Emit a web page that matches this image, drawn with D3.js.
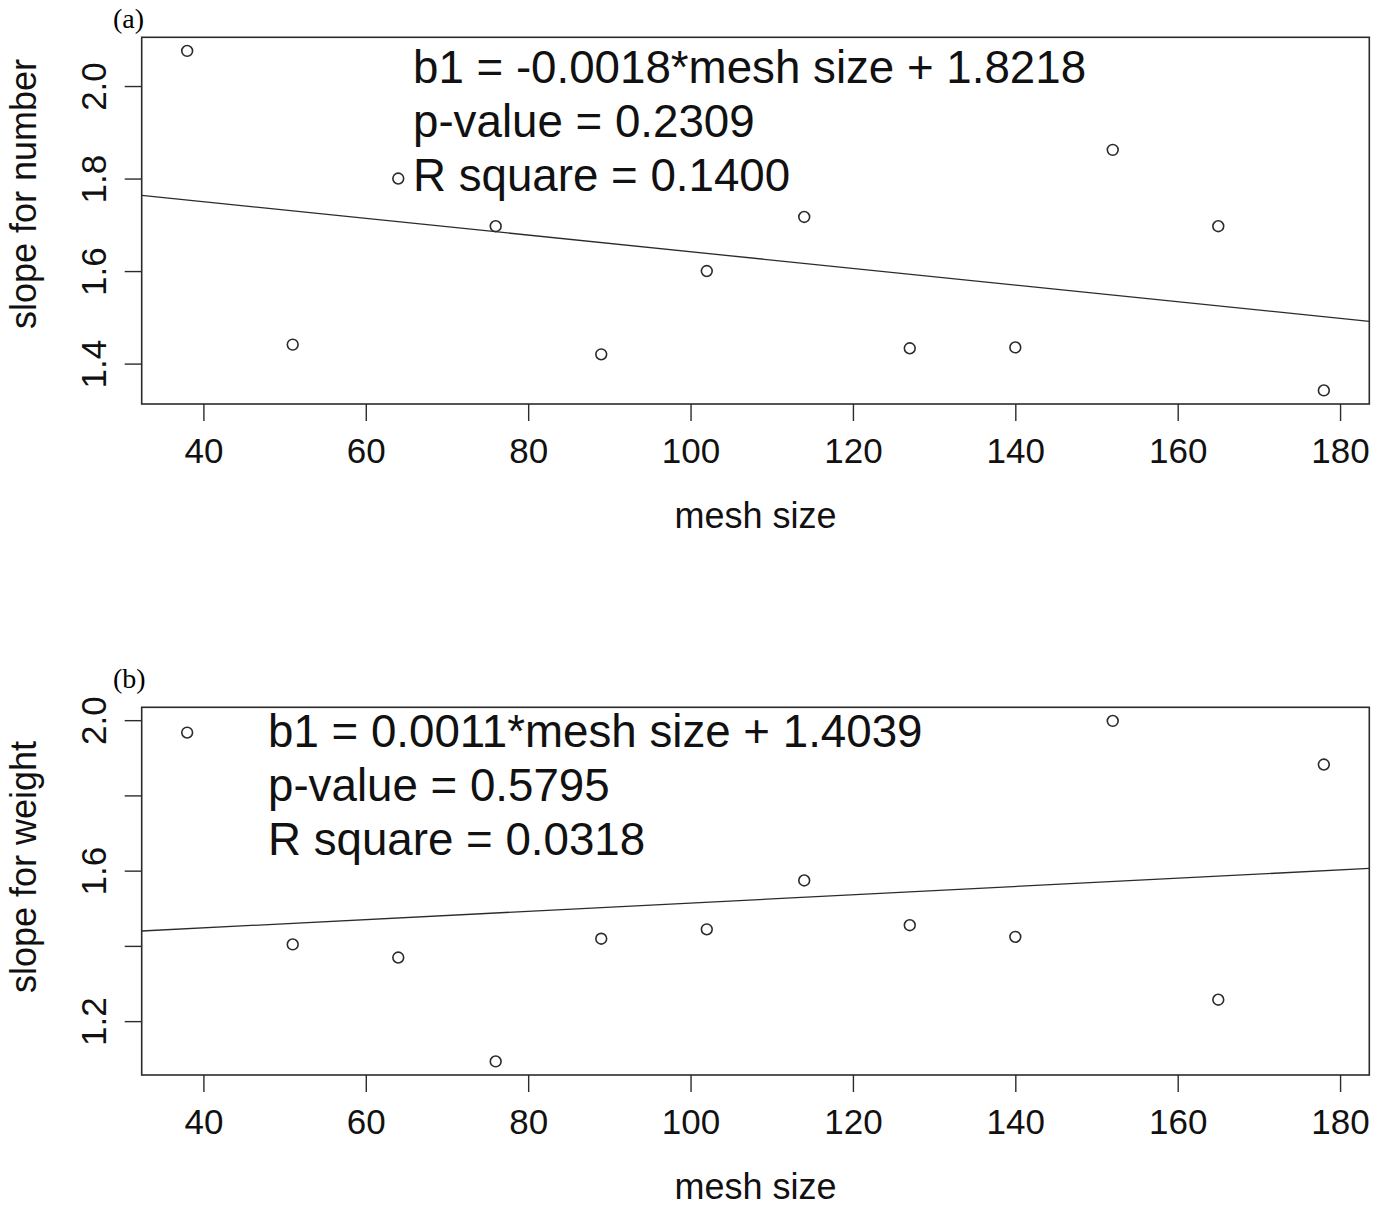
<!DOCTYPE html>
<html>
<head>
<meta charset="utf-8">
<script src="https://cdn.jsdelivr.net/npm/d3@7"></script>
<style>
  html, body { margin: 0; padding: 0; background: #fff; }
  svg { display: block; }
</style>
</head>
<body>
<svg id="chart" width="1386" height="1207"></svg>
<script>
// Mesh sizes shared by both panels
const meshSize = [38, 51, 64, 76, 89, 102, 114, 127, 140, 152, 165, 178];

// Panel (a): slope for number
const slopeNumber = [2.076, 1.441, 1.800, 1.697, 1.420, 1.600, 1.717, 1.433, 1.435, 1.862, 1.697, 1.342];
const fitNumber = [-0.0018, 1.8218]; // [slope, intercept]
const notesNumber = ["b1 = -0.0018*mesh size + 1.8218", "p-value = 0.2309", "R square = 0.1400"];
const yTicksNumber = [1.4, 1.6, 1.8, 2.0];
const yTickLabelsNumber = ["1.4", "1.6", "1.8", "2.0"];

// Panel (b): slope for weight
const slopeWeight = [1.967, 1.404, 1.369, 1.093, 1.419, 1.444, 1.574, 1.455, 1.424, 1.998, 1.257, 1.882];
const fitWeight = [0.0011, 1.4039];
const notesWeight = ["b1 = 0.0011*mesh size + 1.4039", "p-value = 0.5795", "R square = 0.0318"];
const yTicksWeight = [1.2, 1.4, 1.6, 1.8, 2.0];
const yTickLabelsWeight = ["1.2", "", "1.6", "", "2.0"];

const xTicks = [40, 60, 80, 100, 120, 140, 160, 180];

const svg = d3.select("#chart");
const ink = "#2b2b2b";
const sans = "'Liberation Sans', Arial, sans-serif";
const serif = "'Liberation Serif', 'Times New Roman', serif";

// R-style axis range: data extent widened by 4% on each side
function padded(values) {
  const [lo, hi] = d3.extent(values);
  const d = (hi - lo) * 0.04;
  return [lo - d, hi + d];
}

function drawPanel(p) {
  const g = svg.append("g");
  const x = d3.scaleLinear().domain(padded(meshSize)).range([p.left, p.right]);
  const y = d3.scaleLinear().domain(padded(p.values)).range([p.bottom, p.top]);

  const clipId = "clip-" + p.id;
  g.append("clipPath").attr("id", clipId)
    .append("rect").attr("x", p.left).attr("y", p.top)
    .attr("width", p.right - p.left).attr("height", p.bottom - p.top);

  // x axis
  const xAxis = d3.axisBottom(x).tickValues(xTicks).tickSize(17).tickPadding(0).tickFormat(d3.format("d"));
  const gx = g.append("g").attr("transform", `translate(0,${p.bottom})`).call(xAxis);
  gx.select(".domain").remove();
  gx.selectAll(".tick line").attr("stroke", ink).attr("stroke-width", 1.4);
  gx.selectAll(".tick text")
    .attr("fill", "#111").attr("font-family", sans).attr("font-size", 35)
    .attr("dy", null).attr("y", 59);

  // y axis with labels parallel to the axis
  const yAxis = d3.axisLeft(y).tickValues(p.yTicks).tickSize(17).tickPadding(0)
    .tickFormat((d, i) => p.yLabels[i]);
  const gy = g.append("g").attr("transform", `translate(${p.left},0)`).call(yAxis);
  gy.select(".domain").remove();
  gy.selectAll(".tick line").attr("stroke", ink).attr("stroke-width", 1.4);
  gy.selectAll(".tick text")
    .attr("fill", "#111").attr("font-family", sans).attr("font-size", 35)
    .attr("x", null).attr("dy", null)
    .attr("text-anchor", "middle")
    .attr("transform", "translate(-36,0) rotate(-90)");

  // fitted line, drawn across the plotting region
  const [b, a] = p.fit;
  const [x0, x1] = x.domain();
  g.append("line")
    .attr("clip-path", `url(#${clipId})`)
    .attr("x1", x(x0)).attr("y1", y(a + b * x0))
    .attr("x2", x(x1)).attr("y2", y(a + b * x1))
    .attr("stroke", ink).attr("stroke-width", 1.3);

  // open circle points
  g.selectAll("circle.pt").data(meshSize).join("circle")
    .attr("class", "pt")
    .attr("cx", d => x(d))
    .attr("cy", (d, i) => y(p.values[i]))
    .attr("r", 5.4)
    .attr("fill", "none").attr("stroke", ink).attr("stroke-width", 1.6);

  // plot box
  g.append("rect")
    .attr("x", p.left).attr("y", p.top)
    .attr("width", p.right - p.left).attr("height", p.bottom - p.top)
    .attr("fill", "none").attr("stroke", ink).attr("stroke-width", 1.6);

  // regression notes
  g.append("g").selectAll("text").data(p.notes).join("text")
    .attr("x", p.noteX).attr("y", (d, i) => p.noteY + i * 54)
    .attr("font-family", sans).attr("font-size", 45.7).attr("fill", "#111")
    .text(d => d);

  // axis titles
  g.append("text")
    .attr("x", (p.left + p.right) / 2).attr("y", p.bottom + 124)
    .attr("text-anchor", "middle")
    .attr("font-family", sans).attr("font-size", 36).attr("fill", "#111")
    .text("mesh size");
  g.append("text")
    .attr("transform", `translate(36,${p.yTitleY}) rotate(-90)`)
    .attr("text-anchor", "middle")
    .attr("font-family", sans).attr("font-size", 36).attr("fill", "#111")
    .text(p.yTitle);

  // panel tag
  g.append("text")
    .attr("x", 113).attr("y", p.tagY)
    .attr("font-family", serif).attr("font-size", 28).attr("fill", "#000")
    .text(p.tag);
}

drawPanel({
  id: "a", tag: "(a)", tagY: 28,
  left: 141.7, right: 1369.3, top: 37.3, bottom: 404,
  values: slopeNumber, fit: fitNumber, notes: notesNumber,
  yTicks: yTicksNumber, yLabels: yTickLabelsNumber,
  yTitle: "slope for number", yTitleY: 194,
  noteX: 413, noteY: 82.5
});

drawPanel({
  id: "b", tag: "(b)", tagY: 688,
  left: 141.7, right: 1369.3, top: 707.3, bottom: 1075,
  values: slopeWeight, fit: fitWeight, notes: notesWeight,
  yTicks: yTicksWeight, yLabels: yTickLabelsWeight,
  yTitle: "slope for weight", yTitleY: 867,
  noteX: 268, noteY: 747
});
</script>
</body>
</html>
